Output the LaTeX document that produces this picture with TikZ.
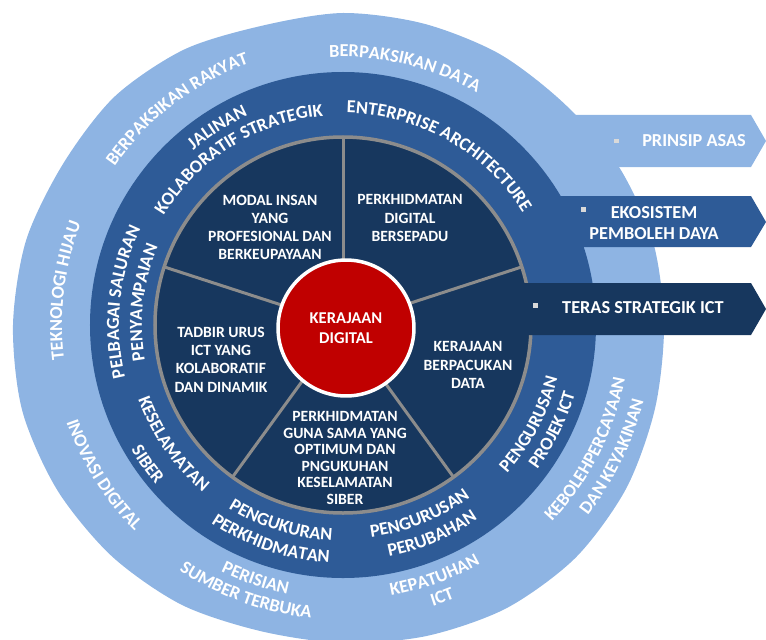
\documentclass[tikz,border=0pt]{standalone}
\usepackage{fontspec}
\setmainfont{Carlito}
\usetikzlibrary{decorations.text}
\definecolor{ringlight}{HTML}{8EB4E3}
\definecolor{ringmid}{HTML}{2E5B97}
\definecolor{ringdark}{HTML}{17375E}
\definecolor{corered}{HTML}{C00000}
\definecolor{divgray}{HTML}{8C8C8C}
\newcommand\ringfont{\bfseries\fontsize{10.4}{12}\selectfont}

\begin{document}
\begin{tikzpicture}[x=0.02cm, y=0.02cm,
  ringlabel/.style={font=\ringfont, decorate, decoration={text along path, text align=center, text color=white, text={|\ringfont|#1}}},
  sectorlabel/.style={text=white, align=center, inner sep=0pt, font=\bfseries\fontsize{8.9}{10.4}\selectfont},
  bannerlabel/.style={text=white, align=center, inner sep=0pt, font=\bfseries\fontsize{10.4}{12}\selectfont},
  bulletsq/.style={fill=black!15, minimum size=0.1cm, inner sep=0pt},
  core/.style={circle, fill=corered, draw=white, line width=0.07cm, minimum size=2.72cm, align=center, text=white, font=\bfseries\fontsize{9.4}{11.4}\selectfont}]

\useasboundingbox (-343,-314) rectangle (423,325);

% outer ring + first banner
\fill[ringlight] plot[smooth cycle] coordinates {(0:321) (15:321) (30:318) (45:313) (60:313) (75:312) (90:312) (105:310) (120:318) (135:323) (150:323) (165:328) (180:330) (195:332) (210:330) (225:327) (240:323) (255:317) (270:318) (285:322) (300:327) (315:329) (330:327) (345:323)};
\fill[ringlight] (200,210) -- (408,210) -- (423,184) -- (408,158) -- (210,158) -- cycle;

% middle ring + second banner
\fill[ringmid] (0,0) circle[radius=253];
\fill[ringmid] (185,129) -- (408,129) -- (423,103) -- (408,78) -- (185,78) -- cycle;

% inner pie + third banner
\fill[ringdark] (0,0) circle[radius=188];
\foreach \a in {90,18,-54,-126,162}
  \draw[divgray, line width=0.06cm] (0,0) -- (\a:188);
\draw[divgray, line width=0.07cm] (0,0) circle[radius=188];
\fill[ringdark] (170,42) -- (408,42) -- (423,16) -- (408,-10) -- (170,-10) -- cycle;

\node[core] (c) at (3,-3) {KERAJAAN\\DIGITAL};

% pie sectors
\node[sectorlabel] (s1) at (-73,97.5) {MODAL INSAN\\YANG\\PROFESIONAL DAN\\BERKEUPAYAAN};
\node[sectorlabel] (s2) at (67,107) {PERKHIDMATAN\\DIGITAL\\BERSEPADU};
\node[sectorlabel] (s3) at (125,-40) {KERAJAAN\\BERPACUKAN\\DATA};
\node[sectorlabel, font=\bfseries\fontsize{8.9}{9.4}\selectfont] (s4) at (2,-133) {PERKHIDMATAN\\GUNA SAMA YANG\\OPTIMUM DAN\\PNGUKUHAN\\KESELAMATAN\\SIBER};
\node[sectorlabel] (s5) at (-122,-34.5) {TADBIR URUS\\ICT YANG\\KOLABORATIF\\DAN DINAMIK};

% banners
\node[bulletsq] (b1) at (273,184) {};
\node[bannerlabel] (t1) at (351,184) {PRINSIP ASAS};
\node[bulletsq] (b2) at (240,116) {};
\node[bannerlabel] (t2) at (311,101.5) {EKOSISTEM\\PEMBOLEH DAYA};
\node[bulletsq] (b3) at (192,20) {};
\node[bannerlabel] (t3) at (300,17) {TERAS STRATEGIK ICT};

% outer ring labels
\path[ringlabel={BERPAKSIKAN RAKYAT}] (172.5:278) arc[start angle=172.5, end angle=82.5, radius=278];
\path[ringlabel={BERPAKSIKAN DATA}] (121.5:268) arc[start angle=121.5, end angle=31.5, radius=268];
\path[ringlabel={TEKNOLOGI HIJAU}] (218:281) arc[start angle=218, end angle=128, radius=281];
\path[ringlabel={INOVASI DIGITAL}] (167:293) arc[start angle=167, end angle=257, radius=293];
\path[ringlabel={PERISIAN}] (206:275) arc[start angle=206, end angle=296, radius=275];
\path[ringlabel={SUMBER TERBUKA}] (205:295) arc[start angle=205, end angle=295, radius=295];
\path[ringlabel={KEPATUHAN}] (245:275) arc[start angle=245, end angle=335, radius=275];
\path[ringlabel={ICT}] (245:295) arc[start angle=245, end angle=335, radius=295];
\path[ringlabel={KEBOLEHPERCAYAAN}] (-72:287) arc[start angle=-72, end angle=18, radius=287];
\path[ringlabel={DAN KEYAKINAN}] (-71:310) arc[start angle=-71, end angle=19, radius=310];

% middle ring labels
\path[ringlabel={JALINAN}] (167.5:230) arc[start angle=167.5, end angle=77.5, radius=230];
\path[ringlabel={KOLABORATIF STRATEGIK}] (172:210) arc[start angle=172, end angle=72, radius=210];
\path[ringlabel={ENTERPRISE ARCHITECTURE}] (110.5:212) arc[start angle=110.5, end angle=10.5, radius=212];
\path[ringlabel={PELBAGAI SALURAN}] (219:224) arc[start angle=219, end angle=129, radius=224];
\path[ringlabel={PENYAMPAIAN}] (218.5:201) arc[start angle=218.5, end angle=128.5, radius=201];
\path[ringlabel={KESELAMATAN}] (170:218) arc[start angle=170, end angle=260, radius=218];
\path[ringlabel={SIBER}] (170.5:246) arc[start angle=170.5, end angle=260.5, radius=246];
\path[ringlabel={PENGUKURAN}] (207.5:216) arc[start angle=207.5, end angle=297.5, radius=216];
\path[ringlabel={PERKHIDMATAN}] (206.5:238) arc[start angle=206.5, end angle=296.5, radius=238];
\path[ringlabel={PENGURUSAN}] (247:214) arc[start angle=247, end angle=337, radius=214];
\path[ringlabel={PERUBAHAN}] (248:236) arc[start angle=248, end angle=338, radius=236];
\path[ringlabel={PENGURUSAN}] (-73:221) arc[start angle=-73, end angle=17, radius=221];
\path[ringlabel={PROJEK ICT}] (-71.5:242) arc[start angle=-71.5, end angle=18.5, radius=242];

\end{tikzpicture}
\end{document}
